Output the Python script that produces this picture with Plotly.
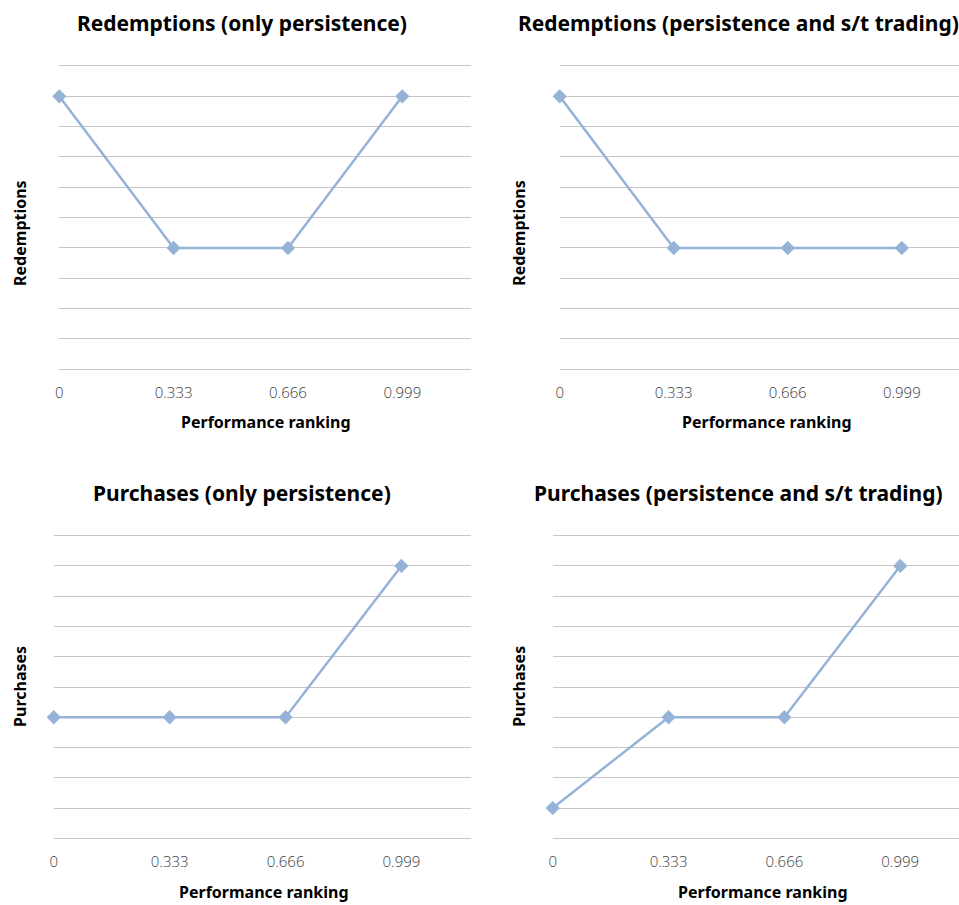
import plotly.graph_objects as go

# ---- data ----
ranking = [0, 0.333, 0.666, 0.999]
tick_labels = ["0", "0.333", "0.666", "0.999"]
red_only = [9, 4, 4, 9]
red_st = [9, 4, 4, 4]
pur_only = [4, 4, 4, 9]
pur_st = [1, 4, 4, 9]

titles = ["Redemptions (only persistence)", "Redemptions (persistence and s/t trading)",
          "Purchases (only persistence)", "Purchases (persistence and s/t trading)"]
ytitles = ["Redemptions", "Redemptions", "Purchases", "Purchases"]
series = [red_only, red_st, pur_only, pur_st]

W, H = 959, 905
LINE = "#95B3D7"
GRID = "#C6C6C6"
TXT = "#000000"
TICK = "#404040"

# pixel layouts: (left, right, top, bottom, xmax)
panels = [
    (55.5, 469.3, 66.0, 369.3, 1.2),
    (558.0, 959.0, 66.0, 369.3, 1.166),
    (50.0, 469.3, 535.7, 838.3, 1.2),
    (551.0, 959.0, 535.7, 838.3, 1.168),
]
title_pos = [(239, 23), (738, 23), (239, 493), (738, 493)]
ytitle_pos = [(16, 233), (517, 233), (16, 686), (517, 686)]
xtitle_pos = [(263, 422), (766, 422), (261, 892), (762, 892)]

fig = go.Figure()
annotations = []
for i, (l, r, t, b, xmax) in enumerate(panels):
    n = "" if i == 0 else str(i + 1)
    fig.add_trace(go.Scatter(
        x=ranking, y=series[i], mode="lines+markers",
        line=dict(color=LINE, width=2.5),
        marker=dict(symbol="diamond", size=11, color=LINE),
        cliponaxis=False, showlegend=False, hoverinfo="skip",
        xaxis="x" + n, yaxis="y" + n,
    ))
    fig.update_layout(**{
        "xaxis" + n: dict(
            domain=[l / W, r / W], range=[0, xmax], anchor="y" + n,
            tickvals=ranking, ticktext=tick_labels, showgrid=False, zeroline=False,
            showline=True, mirror=True, linecolor=GRID, linewidth=1, ticks="",
            ticklabelstandoff=10,
            tickfont=dict(family="Open Sans", size=15, color=TICK, weight=300),
        ),
        "yaxis" + n: dict(
            domain=[1 - b / H, 1 - t / H], range=[0, 10], anchor="x" + n,
            dtick=1, tick0=0, showgrid=True, gridcolor=GRID, gridwidth=1,
            zeroline=False, showticklabels=False, ticks="",
        ),
    })
    annotations.append(dict(
        text="<b>" + titles[i] + "</b>", x=title_pos[i][0] / W, y=1 - title_pos[i][1] / H,
        xref="paper", yref="paper", showarrow=False, xanchor="center", yanchor="middle",
        font=dict(family="Noto Sans", size=21, color=TXT)))
    annotations.append(dict(
        text="<b>" + ytitles[i] + "</b>", x=ytitle_pos[i][0] / W, y=1 - ytitle_pos[i][1] / H,
        xref="paper", yref="paper", showarrow=False, xanchor="center", yanchor="middle",
        textangle=-90, font=dict(family="Noto Sans", size=16, color=TXT)))
    annotations.append(dict(
        text="<b>Performance ranking</b>", x=xtitle_pos[i][0] / W, y=1 - xtitle_pos[i][1] / H,
        xref="paper", yref="paper", showarrow=False, xanchor="center", yanchor="middle",
        font=dict(family="Noto Sans", size=16, color=TXT)))

fig.update_layout(
    width=W, height=H, autosize=False,
    margin=dict(l=0, r=0, t=0, b=0),
    paper_bgcolor="white", plot_bgcolor="white",
    annotations=annotations,
)
fig.write_html("out.html", config={"displayModeBar": False},
               post_script="document.body.style.margin='0';document.body.style.overflow='hidden';")
